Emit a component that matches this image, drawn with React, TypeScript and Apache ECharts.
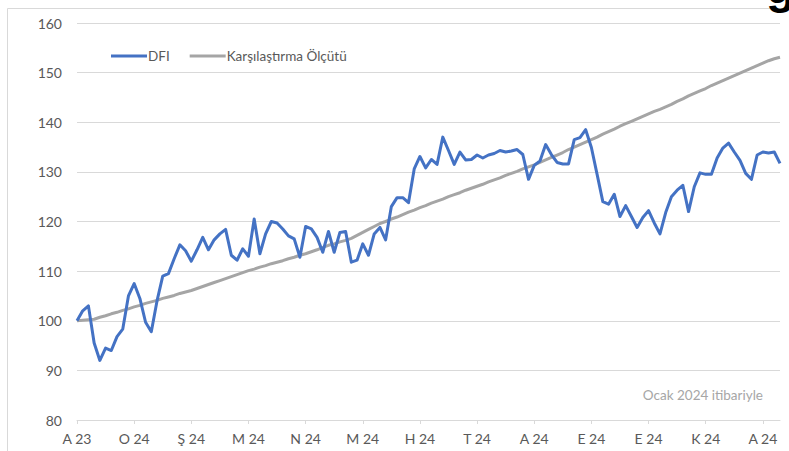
import React, { useEffect, useRef } from "react";
import * as echarts from "echarts";

const tickLabels = ["A 23", "O 24", "Ş 24", "M 24", "N 24", "M 24", "H 24", "T 24", "A 24", "E 24", "E 24", "K 24", "A 24"];

const dfi = [
  100, 102, 103, 95.5, 92, 94.5, 94, 96.8, 98.3, 105,
  107.5, 104.5, 99.7, 97.8, 104, 109, 109.5, 112.5, 115.3, 114.1,
  112, 114.3, 116.8, 114.3, 116.3, 117.5, 118.4, 113.2, 112.2, 114.5,
  113, 120.5, 113.5, 117.5, 120, 119.7, 118.5, 117.1, 116.5, 112.8,
  119, 118.5, 116.8, 113.8, 118, 113.8, 117.8, 118, 111.8, 112.2,
  115.5, 113.2, 117.5, 118.8, 116.3, 123, 124.8, 124.8, 123.8, 130.6,
  133.1, 130.8, 132.5, 131.5, 137, 134.3, 131.5, 134, 132.4, 132.5,
  133.4, 132.8, 133.4, 133.7, 134.3, 134, 134.2, 134.5, 133.5, 128.5,
  131.3, 132.2, 135.5, 133.5, 131.9, 131.6, 131.6, 136.5, 136.9, 138.5,
  134.9, 129.5, 124, 123.5, 125.5, 121, 123.2, 121, 118.8, 120.8,
  122.2, 119.7, 117.5, 121.8, 125, 126.3, 127.3, 122, 127, 129.8,
  129.5, 129.5, 132.8, 134.8, 135.8, 134, 132.3, 129.7, 128.5, 133.4,
  134, 133.8, 134, 131.7,
];

const benchmark = [
  100, 100.1, 100.2, 100.3, 100.7, 101, 101.4, 101.7, 102.1, 102.4,
  102.8, 103.1, 103.5, 103.8, 104.1, 104.5, 104.8, 105.1, 105.5, 105.8,
  106.1, 106.5, 106.9, 107.3, 107.7, 108.1, 108.5, 108.9, 109.3, 109.7,
  110.1, 110.4, 110.8, 111.1, 111.5, 111.8, 112.1, 112.5, 112.8, 113.2,
  113.5, 113.9, 114.3, 114.8, 115.2, 115.5, 115.9, 116.2, 116.6, 117.2,
  117.8, 118.4, 119, 119.6, 120, 120.5, 120.9, 121.4, 121.9, 122.3,
  122.8, 123.2, 123.7, 124.1, 124.5, 125, 125.4, 125.8, 126.3, 126.7,
  127.1, 127.5, 128, 128.4, 128.8, 129.3, 129.7, 130.1, 130.6, 131,
  131.4, 131.9, 132.4, 132.9, 133.4, 133.9, 134.5, 135, 135.5, 136,
  136.5, 137, 137.6, 138.1, 138.6, 139.2, 139.7, 140.2, 140.7, 141.2,
  141.7, 142.2, 142.6, 143.1, 143.6, 144.2, 144.7, 145.3, 145.8, 146.3,
  146.8, 147.4, 147.9, 148.4, 148.9, 149.4, 149.9, 150.4, 150.9, 151.4,
  151.9, 152.4, 152.8, 153.1,
];

const POINTS_PER_TICK = 10;
const FONT = "Lato, 'Liberation Sans', sans-serif";

export default function App() {
  const ref = useRef<HTMLDivElement>(null);
  useEffect(() => {
    const chart = echarts.init(ref.current!, null, { renderer: "svg" });
    const cats = dfi.map((_, i) => String(i));
    chart.setOption({
      animation: false,
      backgroundColor: "#ffffff",
      grid: { left: 77, right: 9, top: 23, bottom: 31, containLabel: false },
      legend: {
        left: 106,
        top: 44,
        icon: "rect",
        itemWidth: 36,
        itemHeight: 3,
        itemGap: 20,
        textStyle: { color: "#595959", fontSize: 13.5, fontFamily: FONT, padding: [0, 0, 0, -4] },
        data: ["DFI", "Karşılaştırma Ölçütü"],
      },
      xAxis: {
        type: "category",
        data: cats,
        boundaryGap: false,
        axisLine: { lineStyle: { color: "#d9d9d9", width: 1 } },
        axisTick: {
          show: true,
          length: 4,
          interval: (i: number) => i % POINTS_PER_TICK === 0,
          lineStyle: { color: "#d9d9d9" },
        },
        axisLabel: {
          interval: (i: number) => i % POINTS_PER_TICK === 0,
          formatter: (_v: string, i: number) => (i % POINTS_PER_TICK === 0 ? tickLabels[i / POINTS_PER_TICK] ?? "" : ""),
          color: "#595959",
          fontSize: 14,
          fontFamily: FONT,
          margin: 11,
        },
        splitLine: { show: false },
      },
      yAxis: {
        type: "value",
        min: 80,
        max: 160,
        interval: 10,
        axisLine: { show: false },
        axisTick: { show: false },
        axisLabel: { color: "#595959", fontSize: 14, fontFamily: FONT, margin: 15 },
        splitLine: { lineStyle: { color: "#d9d9d9", width: 1 } },
      },
      series: [
        {
          name: "Karşılaştırma Ölçütü",
          type: "line",
          data: benchmark,
          showSymbol: false,
          symbol: "none",
          lineStyle: { color: "#a5a5a5", width: 3 },
          itemStyle: { color: "#a5a5a5" },
          z: 2,
        },
        {
          name: "DFI",
          type: "line",
          data: dfi,
          showSymbol: false,
          symbol: "none",
          lineStyle: { color: "#4472c4", width: 3, join: "round" },
          itemStyle: { color: "#4472c4" },
          z: 3,
        },
      ],
      graphic: [
        {
          type: "line",
          shape: { x1: 7.5, y1: 8.5, x2: 7.5, y2: 451 },
          style: { stroke: "#d9d9d9", lineWidth: 1 },
        },
        {
          type: "line",
          shape: { x1: 7.5, y1: 8.5, x2: 789, y2: 8.5 },
          style: { stroke: "#d9d9d9", lineWidth: 1 },
        },
        {
          type: "text",
          right: 26,
          top: 388,
          style: { text: "Ocak 2024 itibariyle", fill: "#a6a6a6", fontSize: 13.5, fontFamily: FONT },
        },
        {
          type: "text",
          x: 766,
          y: -38,
          style: { text: "g", fill: "#000000", fontSize: 48, fontWeight: "bold", fontFamily: "'Liberation Sans', sans-serif" },
        },
      ],
    });
    return () => chart.dispose();
  }, []);
  return (
    <div
      ref={ref}
      style={{ position: "fixed", left: 0, top: 0, width: 789, height: 451, background: "#fff" }}
    />
  );
}
